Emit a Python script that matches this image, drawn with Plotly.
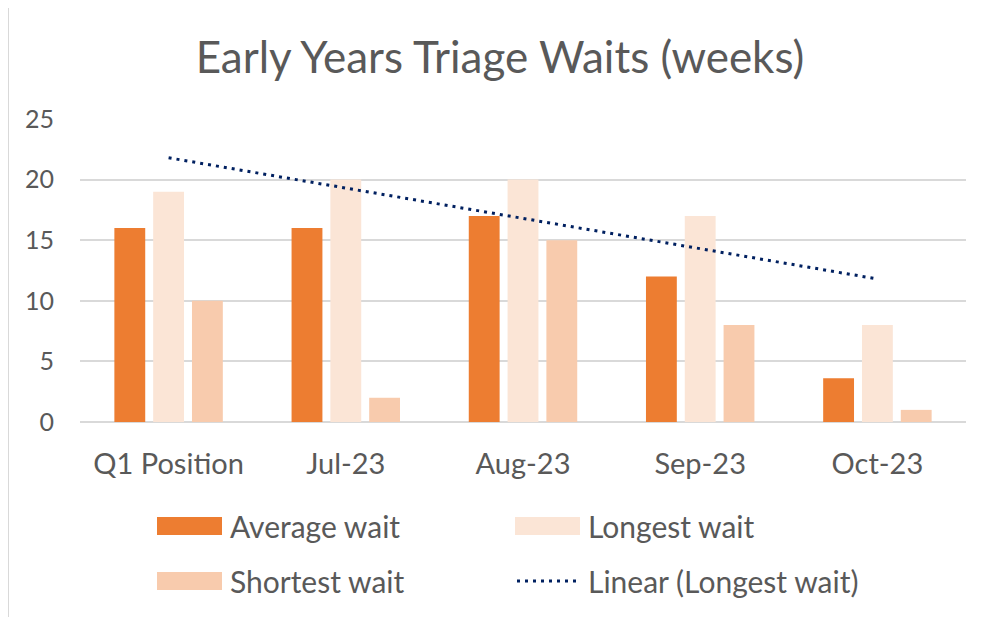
import numpy as np
import plotly.graph_objects as go

categories = ["Q1 Position", "Jul-23", "Aug-23", "Sep-23", "Oct-23"]
average_wait = [16, 16, 17, 12, 3.6]
longest_wait = [19, 20, 20, 17, 8]
shortest_wait = [10, 2, 15, 8, 1]
y_ticks = [0, 5, 10, 15, 20, 25]

C_AVG = "#ED7D31"
C_LONG = "#FBE5D6"
C_SHORT = "#F8CBAD"
C_TREND = "#002060"
TXT = "#595959"
GRID = "#D9D9D9"
FONT = "Lato"

# page body has an 8px margin; work in reference pixel coords and shift
OFF = 8
W, H = 982 - OFF, 617 - OFF
L, T = 80 - OFF, 119 - OFF
PR, PB = 966 - OFF, 422 - OFF
R, B = W - PR, H - PB
PW, PH = PR - L, PB - T

def px(x):
    return (x - OFF - L) / PW

def py(y):
    return (PB - (y - OFF)) / PH

# linear trendline (least squares) of longest wait
xi = np.arange(1, len(longest_wait) + 1)
slope, intercept = np.polyfit(xi, np.array(longest_wait, dtype=float), 1)
trend = [slope * x + intercept for x in (xi[0], xi[-1])]

fig = go.Figure()
fig.add_trace(go.Bar(name="Average wait", x=categories, y=average_wait,
                     marker=dict(color=C_AVG, line=dict(width=0)), showlegend=False))
fig.add_trace(go.Bar(name="Longest wait", x=categories, y=longest_wait,
                     marker=dict(color=C_LONG, line=dict(width=0)), showlegend=False))
fig.add_trace(go.Bar(name="Shortest wait", x=categories, y=shortest_wait,
                     marker=dict(color=C_SHORT, line=dict(width=0)), showlegend=False))
fig.add_trace(go.Scatter(name="Linear (Longest wait)", x=[categories[0], categories[-1]], y=trend,
                         mode="lines", line=dict(color=C_TREND, width=3, dash="3px,5px"),
                         showlegend=False))

shapes = []
# chart frame
shapes.append(dict(type="line", xref="paper", yref="paper", x0=px(8), x1=px(1000), y0=py(6), y1=py(6),
                   line=dict(color="#D9D9D9", width=2)))
shapes.append(dict(type="line", xref="paper", yref="paper", x0=px(8), x1=px(8), y0=py(6), y1=py(640),
                   line=dict(color="#D9D9D9", width=2)))

# manual legend
legend_items = [
    ("Average wait", C_AVG, "bar", 157, 526),
    ("Longest wait", C_LONG, "bar", 515, 526),
    ("Shortest wait", C_SHORT, "bar", 157, 581),
    ("Linear (Longest wait)", C_TREND, "line", 515, 581),
]
annotations = []
for name, col, kind, x0, yc in legend_items:
    if kind == "bar":
        shapes.append(dict(type="rect", xref="paper", yref="paper", x0=px(x0), x1=px(x0 + 65),
                           y0=py(yc - 9), y1=py(yc + 9), fillcolor=col, line=dict(width=0)))
    else:
        shapes.append(dict(type="line", xref="paper", yref="paper", x0=px(x0 + 2), x1=px(x0 + 65),
                           y0=py(yc), y1=py(yc), line=dict(color=col, width=3, dash="3px,5px")))
    annotations.append(dict(text=name, xref="paper", yref="paper", x=px(x0 + 71), y=py(yc),
                            xanchor="left", yanchor="middle", showarrow=False,
                            font=dict(family=FONT, size=30, color=TXT)))

fig.update_layout(
    width=W, height=H,
    margin=dict(l=L, r=R, t=T, b=B, autoexpand=False),
    paper_bgcolor="white", plot_bgcolor="white",
    barmode="group", bargap=0.343, bargroupgap=0.205,
    title=dict(text="Early Years Triage Waits (weeks)", x=(500 - OFF) / W, xanchor="center",
               y=1 - (58 - OFF) / H, yanchor="middle", yref="container",
               font=dict(family=FONT, size=44, color=TXT)),
    font=dict(family=FONT, color=TXT),
    xaxis=dict(type="category", showgrid=False, showline=False, zeroline=False,
               ticks="outside", ticklen=16, tickcolor="rgba(0,0,0,0)",
               tickfont=dict(family=FONT, size=29, color=TXT)),
    yaxis=dict(range=[0, 25], tickvals=y_ticks, showgrid=True, gridcolor=GRID, gridwidth=1.5,
               zeroline=True, zerolinecolor=GRID, zerolinewidth=1.5, showline=False,
               ticks="outside", ticklen=20, tickcolor="rgba(0,0,0,0)",
               tickfont=dict(family=FONT, size=25, color=TXT)),
    shapes=shapes, annotations=annotations,
)

fig.write_html("out.html")
